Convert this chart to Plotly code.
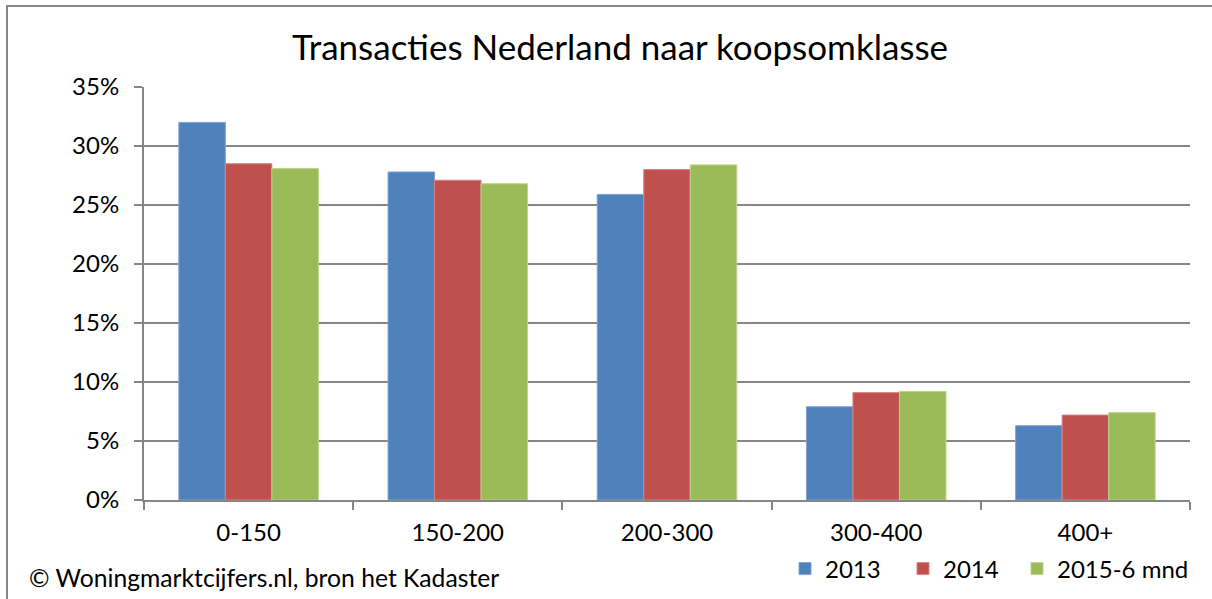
import plotly.graph_objects as go

categories = ["0-150", "150-200", "200-300", "300-400", "400+"]
series_names = ["2013", "2014", "2015-6 mnd"]
v2013 = [32.0, 27.8, 25.9, 7.9, 6.3]
v2014 = [28.5, 27.1, 28.0, 9.1, 7.2]
v2015 = [28.1, 26.8, 28.4, 9.2, 7.4]
colors = ["#4F81BD", "#C0504D", "#9BBB59"]
edge_colors = ["#7FA3D3", "#D88481", "#BBD38A"]
y_ticks = [0, 5, 10, 15, 20, 25, 30, 35]
y_tick_labels = ["0%", "5%", "10%", "15%", "20%", "25%", "30%", "35%"]

FONT = "Lato"
W, H = 1212, 599
L, R, T, B = 144, 1190, 87, 500
pw, ph = R - L, B - T

def px_x(x):
    return (x - L) / pw

def px_y(y):
    return (B - y) / ph

legend_ids = ["legend", "legend2", "legend3"]
legend_left = [785, 903, 1017]

fig = go.Figure()
for name, vals, c, ec, lid in zip(series_names, [v2013, v2014, v2015], colors, edge_colors, legend_ids):
    fig.add_trace(go.Bar(x=categories, y=vals, name=name, legend=lid,
                         marker=dict(color=c, line=dict(color=ec, width=1))))

legend_style = {}
for lid, lx in zip(legend_ids, legend_left):
    legend_style[lid] = dict(orientation="h", x=px_x(lx), xanchor="left", y=px_y(569),
                             yanchor="middle", font=dict(family=FONT, size=24),
                             bgcolor="rgba(0,0,0,0)", itemwidth=30)

fig.update_layout(
    width=W, height=H,
    margin=dict(l=L, r=W - R, t=T, b=H - B, autoexpand=False),
    paper_bgcolor="white", plot_bgcolor="white",
    barmode="group", bargap=0.333, bargroupgap=0,
    font=dict(family=FONT, color="#000000", size=24),
    title=dict(text="Transacties Nederland naar koopsomklasse",
               x=620 / W, xanchor="center", xref="container",
               y=1 - 48 / H, yanchor="middle", yref="container",
               font=dict(family=FONT, size=35, color="#000000")),
    showlegend=True,
    xaxis=dict(type="category", showline=True, linecolor="#868686", linewidth=2,
               ticks="outside", tickson="boundaries", ticklen=8, tickcolor="#868686",
               tickwidth=2, showgrid=False, ticklabelstandoff=10,
               tickfont=dict(family=FONT, size=24)),
    yaxis=dict(range=[0, 35], tickmode="array", tickvals=y_ticks, ticktext=y_tick_labels,
               showline=True, linecolor="#868686", linewidth=2, ticks="outside", ticklen=8,
               tickcolor="#868686", tickwidth=2, showgrid=True, gridcolor="#868686",
               gridwidth=2, zeroline=False, ticklabelstandoff=10,
               tickfont=dict(family=FONT, size=24)),
    **legend_style,
)

fig.add_annotation(text="© Woningmarktcijfers.nl, bron het Kadaster",
                   xref="paper", yref="paper", x=px_x(27), y=px_y(577),
                   xanchor="left", yanchor="middle", showarrow=False,
                   font=dict(family=FONT, size=24.7, color="#000000"))

fig.add_shape(type="rect", xref="paper", yref="paper",
              x0=px_x(7), x1=px_x(1240), y0=px_y(6), y1=px_y(640),
              line=dict(color="#868686", width=2), fillcolor="rgba(0,0,0,0)", layer="below")

fig.write_html("out.html", config={"displayModeBar": False},
               post_script="document.body.style.margin='0';document.body.style.overflow='hidden';")
